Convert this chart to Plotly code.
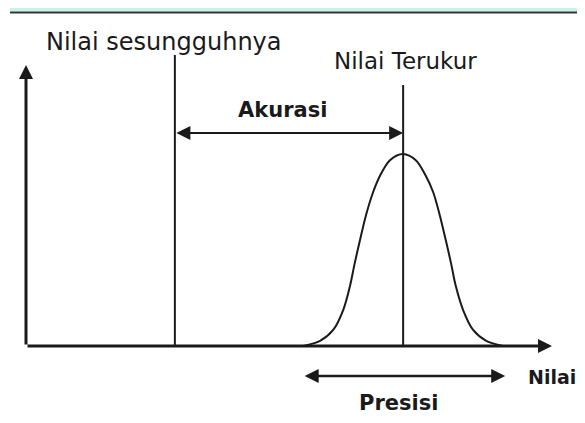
import plotly.graph_objects as go

# ---- data (unitless "Nilai" scale) ----
true_value = 2.83          # Nilai sesungguhnya
measured_value = 7.17      # Nilai Terukur
axis_x_max = 10.0
axis_y_max = 1.0
true_line_top = 1.036
measured_line_top = 0.929
accuracy_level = 0.758
precision_level = -0.107
precision_left = 5.27
precision_right = 9.11

curve_x = [5.27, 5.59, 5.84, 6.03, 6.16, 6.25, 6.35, 6.46, 6.60, 6.73, 6.92, 7.17,
           7.41, 7.60, 7.74, 7.87, 7.98, 8.08, 8.17, 8.31, 8.50, 8.75, 9.07]
curve_y = [0.0, 0.018, 0.057, 0.128, 0.214, 0.295, 0.377, 0.463, 0.548, 0.606, 0.661, 0.683,
           0.661, 0.606, 0.548, 0.463, 0.377, 0.295, 0.214, 0.128, 0.057, 0.018, 0.0]

labels = {
    "true": "Nilai sesungguhnya",
    "measured": "Nilai Terukur",
    "accuracy": "Akurasi",
    "precision": "Presisi",
    "axis": "Nilai",
}

# ---- layout geometry (pixels, page coords; the page body adds an 8px offset) ----
OFF = 8
W, H = 585 - OFF, 423 - OFF
ox, oy = 26 - OFF, 346 - OFF   # origin pixel inside the figure
px_x = 52.6                    # pixels per x unit
px_y = 281.0                   # pixels per y unit
xr = [-ox / px_x, (W - ox) / px_x]
yr = [-(H - oy) / px_y, oy / px_y]

INK = "#1a1a1a"

fig = go.Figure()

fig.add_trace(go.Scatter(x=curve_x, y=curve_y, mode="lines",
                         line=dict(color=INK, width=2, shape="spline", smoothing=0.9),
                         hoverinfo="skip", showlegend=False, cliponaxis=False))
fig.add_trace(go.Scatter(x=[true_value, true_value], y=[0, true_line_top], mode="lines",
                         line=dict(color=INK, width=2), hoverinfo="skip", showlegend=False,
                         cliponaxis=False))
fig.add_trace(go.Scatter(x=[measured_value, measured_value], y=[0, measured_line_top], mode="lines",
                         line=dict(color=INK, width=2), hoverinfo="skip", showlegend=False,
                         cliponaxis=False))

def arrow(x0, y0, x1, y1, width, both=False):
    d = dict(x=x1, y=y1, ax=x0, ay=y0, xref="x", yref="y", axref="x", ayref="y",
             text="", showarrow=True, arrowhead=2, arrowsize=2.8 / width, arrowwidth=width,
             arrowcolor=INK, standoff=0, startstandoff=0)
    if both:
        d.update(arrowside="end+start", startarrowhead=2, startarrowsize=2.8 / width)
    fig.add_annotation(**d)

arrow(0, 0, 0, axis_y_max, 3)
arrow(0, 0, axis_x_max, 0, 3)
arrow(true_value, accuracy_level, measured_value, accuracy_level, 2.2, both=True)
arrow(precision_left, precision_level, precision_right, precision_level, 2.5, both=True)

def label(text, cx, cy, size):
    fig.add_annotation(x=(cx - OFF) / W, y=1 - (cy - OFF) / H, xref="paper", yref="paper", text=text,
                       showarrow=False, xanchor="center", yanchor="middle",
                       font=dict(family="DejaVu Sans", size=size, color=INK))

label(labels["true"], 164, 42, 24)
label(labels["measured"], 405, 61, 23)
label("<b>" + labels["accuracy"] + "</b>", 282, 110, 21)
label("<b>" + labels["precision"] + "</b>", 398, 403, 21)
label("<b>" + labels["axis"] + "</b>", 552, 377, 19)

# decorative top band
fig.add_shape(type="rect", xref="paper", yref="paper", x0=(10 - OFF) / W, x1=1,
              y0=1 - (11.5 - OFF) / H, y1=1 - (8 - OFF) / H,
              fillcolor="#c8f3e8", line_width=0, layer="below")
fig.add_shape(type="rect", xref="paper", yref="paper", x0=(10 - OFF) / W, x1=1,
              y0=1 - (13.5 - OFF) / H, y1=1 - (11.5 - OFF) / H,
              fillcolor="#3b3333", line_width=0, layer="below")

fig.update_layout(
    width=W, height=H,
    margin=dict(l=0, r=0, t=0, b=0, autoexpand=False),
    paper_bgcolor="white", plot_bgcolor="white",
    xaxis=dict(range=xr, visible=False, fixedrange=True),
    yaxis=dict(range=yr, visible=False, fixedrange=True),
    showlegend=False,
)

fig.write_html("out.html")
